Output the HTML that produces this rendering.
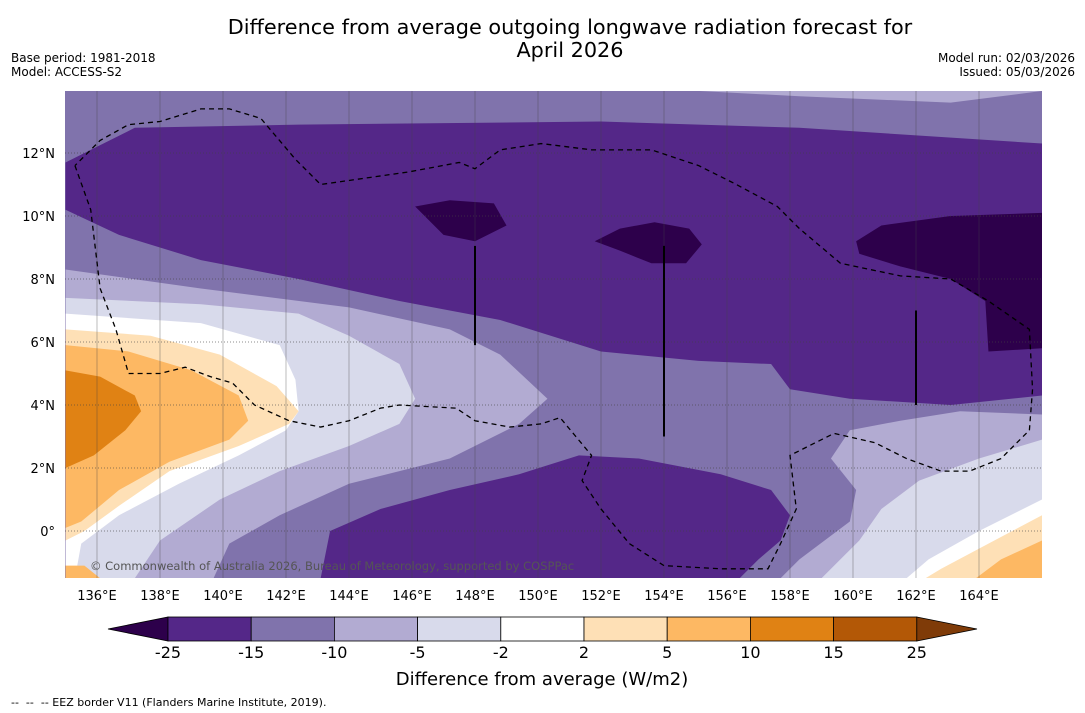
<!DOCTYPE html>
<html><head><meta charset="utf-8"><style>
body{margin:0;background:#fff;width:1085px;height:713px;overflow:hidden;font-family:"Liberation Sans","DejaVu Sans",sans-serif}
svg{display:block}
</style></head><body>
<svg id="chart" width="1085" height="713" xmlns="http://www.w3.org/2000/svg" font-family="DejaVu Sans, Liberation Sans, sans-serif">
<text x="570" y="34" font-size="20.8" text-anchor="middle">Difference from average outgoing longwave radiation forecast for</text>
<text x="570" y="57" font-size="20.8" text-anchor="middle">April 2026</text>
<text x="11" y="62" font-size="12">Base period: 1981-2018</text>
<text x="11" y="76" font-size="12">Model: ACCESS-S2</text>
<text x="1075" y="62" font-size="12" text-anchor="end">Model run: 02/03/2026</text>
<text x="1075" y="76" font-size="12" text-anchor="end">Issued: 05/03/2026</text>
<defs><clipPath id="clip"><rect x="65" y="91" width="977" height="487"/></clipPath></defs>
<g id="plot" clip-path="url(#clip)"></g>
<g id="axes"></g>
<g id="cbar"></g>
<text x="542" y="685" font-size="18" text-anchor="middle">Difference from average (W/m2)</text>
<text x="11" y="706" font-size="11">-- &#160;-- &#160;-- EEZ border V11 (Flanders Marine Institute, 2019).</text>
</svg>
<script>
const lonTicks=[136,138,140,142,144,146,148,150,152,154,156,158,160,162,164];
const latTicks=[0,2,4,6,8,10,12];
const cbarLabels=["-25","-15","-10","-5","-2","2","5","10","15","25"];
const cbarColors=["#542788","#8073ac","#b2abd2","#d8daeb","#ffffff","#fee0b6","#fdb863","#e08214","#b35806"];
const baseColor="#8073ac";
const layerColors=["#b2abd2","#542788","#542788","#2d004b","#2d004b","#2d004b","#b2abd2","#d8daeb","#ffffff","#fee0b6","#fdb863","#e08214","#fdb863","#b2abd2","#d8daeb","#ffffff","#fee0b6","#fdb863"];
const layerNames=["top-strip-minus10","band-minus15-north","blob-minus15-south","core-minus25-a","core-minus25-b","core-minus25-c","west-minus10","west-minus5","west-neutral","west-plus2","west-plus5","west-plus10","southwest-plus5","east-minus10","east-minus5","east-neutral","east-plus2","east-plus5"];
const layers=[
[[155.1,13.97],[158.3,13.8],[163.1,13.6],[164.7,13.8],[166,13.97]],
[[135,11.7],[135.8,12.1],[137.2,12.8],[142.4,12.9],[152,13.0],[158.3,12.8],[166,12.3],[166,4.3],[163.1,4.0],[159.9,4.2],[158,4.5],[157.4,5.3],[155.1,5.4],[152,5.7],[148.8,6.7],[145.6,7.3],[142.4,8.0],[139.3,8.6],[136.7,9.4],[135,10.2]],
[[143.1,-1.5],[143.4,0],[145,0.7],[147.2,1.3],[149.4,1.8],[151.3,2.4],[153.2,2.3],[155.8,1.8],[157.4,1.3],[158,0.5],[157.7,-0.3],[157,-0.9],[156.4,-1.5]],
[[146.1,10.3],[147.2,10.5],[148.6,10.4],[149,9.7],[148,9.2],[147,9.4]],
[[151.8,9.2],[152.6,9.6],[153.7,9.8],[154.8,9.6],[155.2,9.1],[154.7,8.5],[153.6,8.5],[152.6,8.9]],
[[160.1,9.2],[160.9,9.7],[163.1,10.0],[166,10.1],[166,5.8],[164.3,5.7],[164.2,7.3],[163.1,8.0],[161.5,8.4],[160.2,8.8]],
[[135,8.3],[139.3,7.7],[144,7.1],[147.2,6.4],[148.8,5.6],[150.3,4.2],[149.4,3.4],[147.2,2.3],[144,1.5],[141.8,0.5],[140.2,-0.4],[139.7,-1.5],[135,-1.5]],
[[135,7.4],[139.3,7.2],[142.4,6.9],[144,6.2],[145.6,5.3],[146.1,4.2],[145.6,3.4],[144,2.7],[141.8,1.9],[139.9,1.0],[138,-0.3],[137.2,-1.5],[135,-1.5]],
[[135,6.9],[139.3,6.6],[141.8,5.9],[142.3,4.8],[142.4,3.8],[142,3.2],[140.5,2.4],[138.6,1.5],[136.7,0.5],[135.5,-0.4],[135.3,-1.5],[135,-1.5]],
[[135,6.4],[137.7,6.2],[139.9,5.6],[141.7,4.6],[142.4,3.8],[142.1,3.4],[140.5,2.7],[138.3,1.9],[136.7,0.8],[135.6,0],[135,-0.3]],
[[135,5.9],[137,5.7],[139,5.1],[140.5,4.3],[140.8,3.5],[140.2,2.9],[138.3,2.2],[136.7,1.3],[135.5,0.3],[135,0.1]],
[[135,5.1],[136.1,4.9],[137.2,4.3],[137.4,3.8],[136.9,3.2],[135.9,2.4],[135,2.0]],
[[135,-1.1],[135.6,-1.1],[136.1,-1.5],[135,-1.5]],
[[166,3.7],[163.4,3.8],[161.5,3.5],[159.9,3.2],[159.3,2.3],[160.1,1.3],[159.9,0.3],[158.3,-0.9],[157.7,-1.5],[166,-1.5]],
[[166,2.9],[164,2.3],[162.1,1.6],[160.9,0.7],[160.2,-0.3],[159,-1.5],[166,-1.5]],
[[166,1.0],[164,0],[162.4,-0.9],[161.7,-1.5],[166,-1.5]],
[[166,0.5],[164.3,-0.4],[162.8,-1.2],[162.3,-1.5],[166,-1.5]],
[[166,-0.3],[164.7,-0.9],[163.9,-1.5],[166,-1.5]]
];
const eez=[[135.3,11.6],[135.8,10.2],[136.1,7.7],[136.6,6.4],[137,5.0],[138,5.0],[138.8,5.2],[139.6,4.9],[140.3,4.7],[141,4.0],[142.1,3.5],[143.1,3.3],[144,3.5],[145,3.9],[145.6,4.0],[147.4,3.9],[148,3.5],[149.1,3.3],[150.1,3.4],[150.7,3.6],[151.2,3.0],[151.7,2.4],[151.4,1.6],[152,0.7],[152.9,-0.4],[154,-1.1],[155.8,-1.2],[157.3,-1.2],[157.7,-0.4],[158.2,0.7],[158,2.4],[159.4,3.1],[160.7,2.8],[161.7,2.3],[162.8,1.9],[163.7,1.9],[164.7,2.3],[165.6,3.2],[165.7,4.5],[165.6,6.4],[164.3,7.3],[163.1,8.0],[161.5,8.1],[159.6,8.5],[158.3,9.6],[157.6,10.3],[156.3,11.0],[155.1,11.6],[153.6,12.1],[151.7,12.1],[150.1,12.3],[148.8,12.1],[148,11.5],[147.5,11.7],[145.9,11.4],[143.1,11.0],[142.3,11.8],[141.2,13.1],[140.2,13.4],[139.3,13.4],[138,13.0],[137,12.9],[136.1,12.4],[135.3,11.6]];
const segLines=[[148,5.9,9.05],[154,3.0,9.05],[162,4.0,7.0]];

const NS="http://www.w3.org/2000/svg";
const X=lon=>97+(lon-136)*31.5;
const Y=lat=>531-lat*31.5;
function mk(tag,attrs,parent){const e=document.createElementNS(NS,tag);for(const k in attrs)e.setAttribute(k,attrs[k]);parent.appendChild(e);return e;}
const plot=document.getElementById('plot'),axes=document.getElementById('axes'),cb=document.getElementById('cbar');
let r=mk('rect',{x:65,y:91,width:977,height:487,fill:baseColor},plot);


layers.forEach((poly,i)=>{
  const p=mk('polygon',{points:poly.map(q=>X(q[0])+','+Y(q[1])).join(' '),fill:layerColors[i]},plot);
  
  
});
lonTicks.forEach(l=>{
  const g=mk('line',{x1:X(l),x2:X(l),y1:91,y2:578,stroke:'#444','stroke-width':0.6,'stroke-opacity':0.6},plot);
  
  
  const t=mk('text',{x:X(l),y:600,'font-size':13,'text-anchor':'middle'},axes);
  t.textContent=l+'°E';
  
  
});
latTicks.forEach(l=>{
  const g=mk('line',{x1:65,x2:1042,y1:Y(l),y2:Y(l),stroke:'#444','stroke-width':0.8,'stroke-dasharray':'1,2','stroke-opacity':0.8},plot);
  
  
  const t=mk('text',{x:55,y:Y(l)+5,'font-size':13,'text-anchor':'end'},axes);
  t.textContent=l+'°'+(l>0?'N':'');
  
  
});
const ez=mk('polyline',{points:eez.map(q=>X(q[0])+','+Y(q[1])).join(' '),fill:'none',stroke:'#000','stroke-width':1.3,'stroke-dasharray':'5,4'},plot);


segLines.forEach(s=>{
  const l=mk('line',{x1:X(s[0]),x2:X(s[0]),y1:Y(s[1]),y2:Y(s[2]),stroke:'#000','stroke-width':2},plot);
  
  
});
const cp=mk('text',{x:90,y:570,'font-size':11.5,fill:'#555'},plot);
cp.textContent='© Commonwealth of Australia 2026, Bureau of Meteorology, supported by COSPPac';


const cx0=168,cw=83.2,cy=617,ch=24;
let tl=mk('polygon',{points:`108,629 ${cx0},${cy} ${cx0},${cy+ch}`,fill:'#2d004b',stroke:'#000','stroke-width':0.8},cb);


cbarColors.forEach((c,i)=>{
  const b=mk('rect',{x:cx0+i*cw,y:cy,width:cw,height:ch,fill:c,stroke:'#000','stroke-width':0.8},cb);
  
  
});
const xe=cx0+cbarColors.length*cw;
let tr=mk('polygon',{points:`${xe},${cy} 977,629 ${xe},${cy+ch}`,fill:'#7f3b08',stroke:'#000','stroke-width':0.8},cb);


cbarLabels.forEach((s,i)=>{
  const t=mk('text',{x:cx0+i*cw,y:658,'font-size':16,'text-anchor':'middle'},cb);
  t.textContent=s;
  
  
});
</script>
</body></html>
